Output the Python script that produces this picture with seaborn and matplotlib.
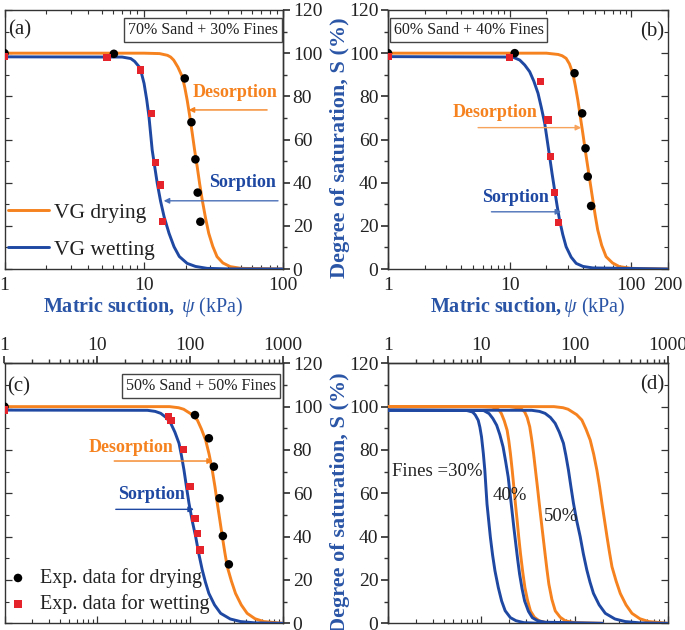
import numpy as np
import pandas as pd
import matplotlib
matplotlib.use("Agg")
import matplotlib.pyplot as plt
import matplotlib.ticker as mticker
import seaborn as sns

# ---------------- data ----------------
# Panel (a): 70% sand + 30% fines
a_dry_x = [1, 10, 13, 14.8, 15.6, 16.4, 17.6, 18.9, 19.7, 20.5, 21.4, 22.3, 23.2, 24.2, 25.2, 26.3,
           27.8, 29.3, 31.3, 33.6, 37, 41.8, 50, 100]
a_dry_s = [100, 100, 99.8, 99.0, 98.2, 96.8, 93.5, 89.1, 84.2, 78.3, 70.8, 62.9, 55.0, 47.4, 39.5, 32.0,
           23.5, 16.5, 10.5, 5.7, 2.8, 1.1, 0.3, 0]
a_wet_x = [1, 7, 8.07, 8.6, 9.26, 9.65, 10.05, 10.5, 10.9, 11.5, 12.5, 13.2, 14.0, 15.2, 16.5, 18,
           20.5, 23.5, 28.5, 40, 100]
a_wet_s = [98.3, 98.2, 97.5, 96.2, 93.7, 90.5, 86.0, 78.5, 70.6, 55.1, 39.7, 31.5, 24.2, 16.5, 10.3, 5.8,
           2.6, 1.2, 0.3, 0.05, 0]
a_expdry_x = [1, 6.1, 19.7, 22.0, 23.5, 24.4, 25.5]
a_expdry_s = [100, 99.7, 88.3, 68.0, 50.8, 35.4, 21.9]
a_expwet_x = [1, 5.44, 9.5, 11.4, 12.2, 13.2, 13.7]
a_expwet_s = [98.5, 98.1, 92.2, 72.1, 49.3, 38.9, 21.9]

# Panel (b): 60% sand + 40% fines
b_dry_x = [1, 20, 25, 27, 29.1, 31, 33.0, 34.6, 36.3, 38, 39.9, 41.8, 43.8, 46, 48.2, 50.5, 52.9,
           57, 62.0, 70, 79.7, 100, 200]
b_dry_s = [100, 100, 99.4, 98.8, 97.6, 95.0, 90.7, 85.0, 78.3, 70.8, 62.9, 55.0, 47.4, 39.5, 32.0, 24.7, 18.1,
           11.0, 5.7, 2.8, 1.1, 0.3, 0]
b_wet_x = [1, 10.6, 12.1, 13.3, 14.6, 15.8, 17.1, 18.2, 19.4, 20.3, 21.3, 22.3, 23.4, 24.5, 25.7, 27.3,
           29.1, 32, 35.2, 40, 48.2, 200]
b_wet_s = [98.4, 98.2, 96.8, 94.5, 91.4, 87.0, 81.4, 74.8, 67.5, 60.0, 52.0, 44.2, 36.6, 29.5, 22.7, 16.0,
           10.3, 5.5, 2.6, 1.2, 0.5, 0]
b_expdry_x = [1, 11.0, 34.1, 39.4, 42.0, 43.8, 46.7]
b_expdry_s = [100, 100, 90.7, 72.1, 55.9, 42.8, 29.2]
b_expwet_x = [1, 10.0, 17.9, 20.6, 21.7, 23.4, 25.2]
b_expwet_s = [98.5, 98.1, 86.8, 69.0, 52.0, 35.4, 21.5]

# Panel (c): 50% sand + 50% fines
c_dry_x = [1, 60, 75, 85, 93.3, 105, 119.5, 132, 146.7, 160, 173, 185, 196, 209, 222, 236, 251,
           278, 308, 355, 411, 500, 621, 1000]
c_dry_s = [100, 100, 99.5, 98.8, 97.7, 96.3, 93.8, 89.7, 84.6, 78.0, 70.7, 63.0, 55.4, 47.5, 40.0, 32.8, 26.1,
           19.5, 13.8, 8.5, 4.6, 2.1, 0.8, 0]
c_wet_x = [1, 34.7, 42, 48.2, 55, 61.8, 68.5, 75.8, 80.5, 85.8, 91.2, 97.1, 105, 114.6, 124, 135,
           146, 159, 183, 213, 270, 349, 500, 1000]
c_wet_s = [98.4, 98.3, 97.8, 96.9, 95.0, 92.3, 88.2, 83.1, 77.5, 70.7, 63.0, 55.4, 47.5, 40.0, 32.0, 24.6,
           19.0, 13.8, 8.5, 4.6, 2.0, 0.8, 0.2, 0]
c_expdry_x = [1, 112.6, 159, 180, 207, 225, 261]
c_expdry_s = [100, 96.1, 85.4, 72.3, 57.7, 40.3, 27.2]
c_expwet_x = [1, 58, 62, 84.5, 99.5, 112.6, 119.5, 127.4]
c_expwet_s = [98.5, 95.5, 93.5, 80.3, 63.1, 48.5, 41.5, 33.8]

y_ticks = [0, 20, 40, 60, 80, 100, 120]

ORANGE = "#F5821F"
BLUE = "#1E48A2"
LABEL_BLUE = "#2A55A6"
RED = "#E5232A"
TXT = "#222222"

sns.set_theme(style="white")
plt.rcParams.update({
    "font.family": ["Liberation Serif", "DejaVu Serif"],
    "mathtext.fontset": "custom",
    "mathtext.rm": "Liberation Serif",
    "mathtext.it": "Liberation Serif:italic",
    "mathtext.bf": "Liberation Serif:bold",
    "axes.edgecolor": "#333333",
    "axes.linewidth": 1.0,
    "xtick.color": "#333333",
    "ytick.color": "#333333",
    "xtick.labelcolor": TXT,
    "ytick.labelcolor": TXT,
})

W, H = 685, 630
fig = plt.figure(figsize=(W / 100, H / 100), dpi=100)


def add_ax(x0, y_top, w, y_bot):
    return fig.add_axes([x0 / W, 1 - y_bot / H, w / W, (y_bot - y_top) / H])


ax_a = add_ax(4.5, 10, 278.5, 269)
ax_b = add_ax(388, 10, 280, 269)
ax_c = add_ax(4.5, 363.3, 278.5, 623.3)
ax_d = add_ax(388, 363.3, 280, 623.3)

fmt = mticker.FuncFormatter(lambda v, p: f"{v:g}")


def style(ax, xmax, xticks, ylab_side, xlab_side):
    ax.set_xscale("log")
    ax.set_xlim(1, xmax)
    ax.set_ylim(0, 120)
    ax.set_facecolor("white")
    for sp in ax.spines.values():
        sp.set_visible(True)
        sp.set_color("#333333")
    ax.set_yticks(y_ticks)
    ax.yaxis.set_minor_locator(mticker.MultipleLocator(10))
    ax.xaxis.set_major_locator(mticker.FixedLocator(xticks))
    ax.xaxis.set_minor_locator(mticker.LogLocator(base=10, subs=np.arange(2, 10)))
    ax.xaxis.set_major_formatter(fmt)
    ax.xaxis.set_minor_formatter(mticker.NullFormatter())
    other_y = "left" if ylab_side == "right" else "right"
    ax.tick_params(axis="y", which="both", direction="in",
                   left=(other_y == "left"), right=(other_y == "right"),
                   labelleft=False, labelright=False)
    ax.tick_params(axis="y", which="major", length=5, width=0.9)
    ax.tick_params(axis="y", which="minor", length=3, width=0.8)
    if xlab_side == "bottom":
        ax.tick_params(axis="x", which="both", direction="in", top=True, bottom=True,
                       labelbottom=True, labeltop=False, labelsize=14, pad=5.5)
    else:
        ax.tick_params(axis="x", which="both", direction="in", top=False, bottom=True,
                       labelbottom=False, labeltop=False)
        sx = ax.secondary_xaxis("top")
        sx.xaxis.set_major_locator(mticker.FixedLocator(xticks))
        sx.xaxis.set_minor_locator(mticker.LogLocator(base=10, subs=np.arange(2, 10)))
        sx.xaxis.set_major_formatter(fmt)
        sx.xaxis.set_minor_formatter(mticker.NullFormatter())
        sx.tick_params(axis="x", which="both", direction="out", labelsize=14, pad=2)
        sx.tick_params(axis="x", which="major", length=5)
        sx.tick_params(axis="x", which="minor", length=3)
        sx.spines["top"].set_color("#333333")
    ax.tick_params(axis="x", which="major", length=5, width=0.9)
    ax.tick_params(axis="x", which="minor", length=3, width=0.8)
    sy = ax.secondary_yaxis(ylab_side)
    sy.set_yticks(y_ticks)
    sy.yaxis.set_minor_locator(mticker.MultipleLocator(10))
    sy.tick_params(axis="y", which="both", direction="out", labelsize=14, pad=2)
    sy.tick_params(axis="y", which="major", length=5)
    sy.tick_params(axis="y", which="minor", length=3)
    sy.spines[ylab_side].set_color("#333333")


def curves(ax, dx, ds, wx, ws, labels=False):
    sns.lineplot(x=dx, y=ds, ax=ax, color=ORANGE, lw=2.1, sort=False, estimator=None,
                 label="VG drying" if labels else None, zorder=3)
    sns.lineplot(x=wx, y=ws, ax=ax, color=BLUE, lw=2.1, sort=False, estimator=None,
                 label="VG wetting" if labels else None, zorder=3)


def exp_points(ax, dx, ds, wx, ws, labels=False):
    sns.scatterplot(x=dx, y=ds, ax=ax, marker="o", s=38, color="black", edgecolor="none",
                    label="Exp. data for drying" if labels else None, zorder=4, clip_on=True)
    sns.scatterplot(x=wx, y=ws, ax=ax, marker="s", s=28, color=RED, edgecolor="none",
                    label="Exp. data for wetting" if labels else None, zorder=4, clip_on=True)


def arrow(ax, x0, x1, y, color):
    ax.annotate("", xy=(x1, y), xytext=(x0, y),
                arrowprops=dict(arrowstyle="-|>", color=color, lw=1.0,
                                mutation_scale=8, shrinkA=0, shrinkB=0), zorder=5)


def boxtext(ax, x, y, s):
    ax.text(x, y, s, transform=ax.transAxes, ha="center", va="center", fontsize=11.5, color=TXT,
            bbox=dict(boxstyle="square,pad=0.25", fc="white", ec="#444444", lw=1.0), zorder=6)


# ---- (a)
style(ax_a, 100, [1, 10, 100], "right", "bottom")
curves(ax_a, a_dry_x, a_dry_s, a_wet_x, a_wet_s, labels=True)
exp_points(ax_a, a_expdry_x, a_expdry_s, a_expwet_x, a_expwet_s)
h, l = ax_a.get_legend_handles_labels()
ax_a.legend(h[:2], l[:2], loc="lower left", bbox_to_anchor=(0.012, 0.035), frameon=False,
            fontsize=15.5, handlelength=1.9, handletextpad=0.25, labelspacing=0.8,
            borderpad=0, borderaxespad=0, labelcolor=TXT)
ax_a.text(45.4, 82.0, "Desorption", color=ORANGE, fontsize=13, fontweight="bold", ha="center", va="center")
arrow(ax_a, 76.9, 21.0, 73.7, ORANGE)
ax_a.text(50.9, 40.3, "Sorption", color=BLUE, fontsize=13, fontweight="bold", ha="center", va="center")
arrow(ax_a, 92.1, 13.9, 31.6, "#4A70B8")
boxtext(ax_a, 0.711, 0.921, "70% Sand + 30% Fines")
ax_a.text(0.053, 0.923, "(a)", transform=ax_a.transAxes, fontsize=15, ha="center", va="center", color=TXT)
ax_a.set_xlabel(r"$\mathbf{Matric\ suction,}\ \mathit{\psi}$ (kPa)", color=LABEL_BLUE, fontsize=14.5, labelpad=1)
ax_a.set_ylabel("")

# ---- (b)
style(ax_b, 200, [1, 10, 100, 200], "left", "bottom")
curves(ax_b, b_dry_x, b_dry_s, b_wet_x, b_wet_s)
exp_points(ax_b, b_expdry_x, b_expdry_s, b_expwet_x, b_expwet_s)
ax_b.text(7.54, 72.3, "Desorption", color=ORANGE, fontsize=13, fontweight="bold", ha="center", va="center")
arrow(ax_b, 5.5, 38.7, 65.5, "#F7A35C")
ax_b.text(11.2, 32.9, "Sorption", color=BLUE, fontsize=13, fontweight="bold", ha="center", va="center")
arrow(ax_b, 7.08, 26.5, 26.5, "#4A70B8")
boxtext(ax_b, 0.2875, 0.921, "60% Sand + 40% Fines")
ax_b.text(0.943, 0.915, "(b)", transform=ax_b.transAxes, fontsize=15, ha="center", va="center", color=TXT)
ax_b.set_xlabel(r"$\mathbf{Matric\ suction,}\mathit{\psi}$ (kPa)", color=LABEL_BLUE, fontsize=14.5, labelpad=1)
ax_b.set_ylabel("")

# ---- (c)
style(ax_c, 1000, [1, 10, 100, 1000], "right", "top")
curves(ax_c, c_dry_x, c_dry_s, c_wet_x, c_wet_s)
exp_points(ax_c, c_expdry_x, c_expdry_s, c_expwet_x, c_expwet_s, labels=True)
ax_c.legend(loc="lower left", bbox_to_anchor=(0.005, 0.035), frameon=False, fontsize=14.5,
            handlelength=1.2, handletextpad=0.5, labelspacing=0.3, borderpad=0,
            borderaxespad=0, labelcolor=TXT)
ax_c.text(22.9, 81.0, "Desorption", color=ORANGE, fontsize=13, fontweight="bold", ha="center", va="center")
arrow(ax_c, 15.2, 176, 74.9, ORANGE)
ax_c.text(38.1, 59.5, "Sorption", color=BLUE, fontsize=13, fontweight="bold", ha="center", va="center")
arrow(ax_c, 15.8, 109.9, 52.6, BLUE)
boxtext(ax_c, 0.707, 0.913, "50% Sand + 50% Fines")
ax_c.text(0.05, 0.91, "(c)", transform=ax_c.transAxes, fontsize=15, ha="center", va="center", color=TXT)
ax_c.set_xlabel("")
ax_c.set_ylabel("")

# ---- (d)
style(ax_d, 1000, [1, 10, 100, 1000], "left", "top")
curves(ax_d, a_dry_x, a_dry_s, a_wet_x, a_wet_s)
curves(ax_d, b_dry_x, b_dry_s, b_wet_x, b_wet_s)
curves(ax_d, c_dry_x, c_dry_s, c_wet_x, c_wet_s)
ax_d.text(3.33, 70.0, "Fines =30%", fontsize=13.5, ha="center", va="center", color=TXT)
ax_d.text(20.2, 59.2, "40%", fontsize=13.5, ha="center", va="center", color=TXT)
ax_d.text(71.0, 49.2, "50%", fontsize=13.5, ha="center", va="center", color=TXT)
ax_d.text(0.943, 0.917, "(d)", transform=ax_d.transAxes, fontsize=15, ha="center", va="center", color=TXT)
ax_d.set_xlabel("")
ax_d.set_ylabel("")

# shared y-axis titles between the panels
fig.text(340 / W, 1 - 148 / H, "Degree of saturation, S (%)", rotation=90, ha="center", va="center",
         fontsize=16, fontweight="bold", color=LABEL_BLUE)
fig.text(340 / W, 1 - 503 / H, "Degree of saturation, S (%)", rotation=90, ha="center", va="center",
         fontsize=16, fontweight="bold", color=LABEL_BLUE)

fig.savefig("out.png", dpi=100, facecolor="white")
